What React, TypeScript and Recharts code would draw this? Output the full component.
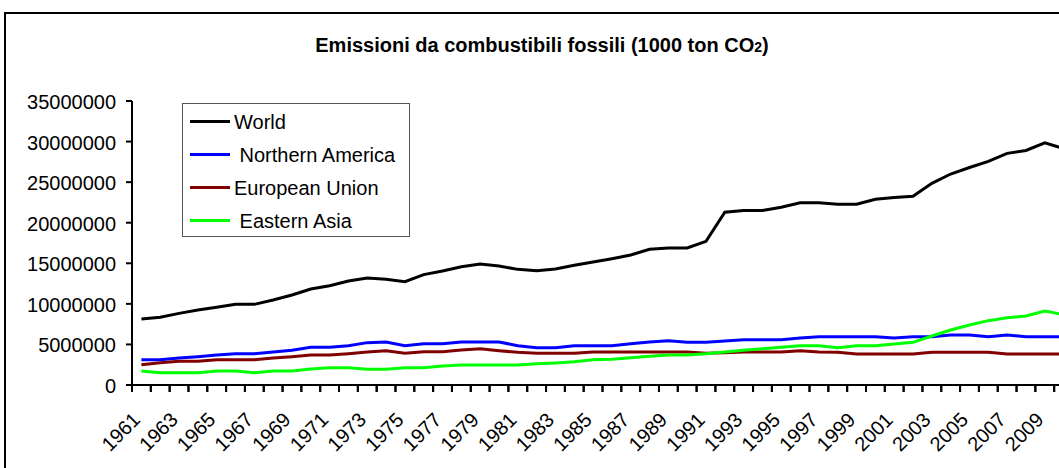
import React from 'react';
import { LineChart, Line, XAxis, YAxis, Legend } from 'recharts';

// Years on the category axis
const years = [
  1961, 1962, 1963, 1964, 1965, 1966, 1967, 1968, 1969, 1970,
  1971, 1972, 1973, 1974, 1975, 1976, 1977, 1978, 1979, 1980,
  1981, 1982, 1983, 1984, 1985, 1986, 1987, 1988, 1989, 1990,
  1991, 1992, 1993, 1994, 1995, 1996, 1997, 1998, 1999, 2000,
  2001, 2002, 2003, 2004, 2005, 2006, 2007, 2008, 2009, 2010,
];

// Emissions, thousand tonnes of CO2
const world = [
  8130000, 8340000, 8830000, 9240000, 9570000, 9940000, 9940000, 10470000, 11090000, 11830000,
  12240000, 12820000, 13190000, 13030000, 12740000, 13600000, 14050000, 14580000, 14910000, 14660000,
  14250000, 14090000, 14300000, 14750000, 15150000, 15570000, 16020000, 16720000, 16880000, 16880000,
  17710000, 21300000, 21500000, 21500000, 21900000, 22450000, 22450000, 22280000, 22280000, 22880000,
  23100000, 23250000, 24850000, 26000000, 26800000, 27550000, 28550000, 28900000, 29850000, 29150000,
];

const northernAmerica = [
  3120000, 3120000, 3330000, 3490000, 3700000, 3860000, 3860000, 4070000, 4270000, 4640000,
  4640000, 4850000, 5220000, 5300000, 4850000, 5090000, 5090000, 5300000, 5300000, 5300000,
  4850000, 4600000, 4600000, 4850000, 4850000, 4850000, 5090000, 5300000, 5460000, 5260000,
  5260000, 5420000, 5590000, 5590000, 5590000, 5790000, 5960000, 5960000, 5960000, 5960000,
  5790000, 5960000, 5960000, 6160000, 6160000, 5960000, 6160000, 5960000, 5960000, 5960000,
];

const europeanUnion = [
  2510000, 2750000, 2920000, 2920000, 3120000, 3120000, 3120000, 3330000, 3490000, 3700000,
  3700000, 3860000, 4070000, 4230000, 3900000, 4110000, 4110000, 4310000, 4480000, 4230000,
  4030000, 3900000, 3900000, 3900000, 4070000, 4070000, 4070000, 4070000, 4070000, 4070000,
  3900000, 3980000, 4070000, 4070000, 4070000, 4230000, 4070000, 4030000, 3820000, 3820000,
  3820000, 3820000, 4030000, 4030000, 4030000, 4030000, 3820000, 3820000, 3820000, 3820000,
];

const easternAsia = [
  1730000, 1520000, 1520000, 1520000, 1730000, 1730000, 1520000, 1730000, 1730000, 1970000,
  2140000, 2140000, 1930000, 1930000, 2140000, 2140000, 2340000, 2460000, 2460000, 2460000,
  2460000, 2630000, 2710000, 2880000, 3120000, 3160000, 3370000, 3530000, 3700000, 3700000,
  3860000, 4070000, 4270000, 4480000, 4640000, 4850000, 4850000, 4600000, 4850000, 4850000,
  5050000, 5260000, 6040000, 6780000, 7390000, 7930000, 8300000, 8500000, 9120000, 8670000,
];

// Value axis ticks and the years printed under the category axis
const yTicks = [0, 5000000, 10000000, 15000000, 20000000, 25000000, 30000000, 35000000];
const yearLabels = [
  1961, 1963, 1965, 1967, 1969, 1971, 1973, 1975, 1977, 1979, 1981, 1983, 1985,
  1987, 1989, 1991, 1993, 1995, 1997, 1999, 2001, 2003, 2005, 2007, 2009,
];

const seriesNames = ['World', 'Northern America', 'European Union', 'Eastern Asia'];
const seriesColors = ['#000000', '#0000ff', '#800000', '#00ff00'];
const seriesKeys = ['world', 'northernAmerica', 'europeanUnion', 'easternAsia'];
const legendIndent = ['', ' ', '', ' '];

const data = years.map((year, i) => ({
  year,
  world: world[i],
  northernAmerica: northernAmerica[i],
  europeanUnion: europeanUnion[i],
  easternAsia: easternAsia[i],
}));

// Tick marks sit between categories, one at each boundary
const boundaries = [...years.map((y) => y - 0.5), years[years.length - 1] + 0.5];
const xDomain: [number, number] = [boundaries[0], boundaries[boundaries.length - 1]];

const FONT = '"Liberation Sans", Arial, Helvetica, sans-serif';
const AXIS_COLOR = '#000000';
const AXIS_WIDTH = 2;
const FONT_SIZE = 20;
const X_TICK_SIZE = 7;
const X_TICK_MARGIN = 2;
const Y_TICK_SIZE = 6;
const Y_TICK_MARGIN = 10;

// Category axis: a mark at every boundary and each odd year's label
// centred in its slot, rotated 45 degrees.
function YearTick(props: any) {
  const { x, y, payload, width } = props;
  const axisY = y - X_TICK_SIZE - X_TICK_MARGIN;
  const year = payload.value + 0.5;
  const slot = width / (boundaries.length - 1);
  const ax = x + slot / 2;
  const ay = axisY + 36;
  return (
    <g>
      <path d={`M${x},${axisY}V${axisY + X_TICK_SIZE}`} fill="none" stroke={AXIS_COLOR} strokeWidth={AXIS_WIDTH} />
      {yearLabels.includes(year) && (
        <text
          x={ax}
          y={ay}
          transform={`rotate(-45, ${ax}, ${ay})`}
          textAnchor="end"
          fontSize={FONT_SIZE}
          fontFamily={FONT}
          fill="#000"
        >
          {year}
        </text>
      )}
    </g>
  );
}

// Value axis: tick mark and plain number label.
function ValueTick(props: any) {
  const { x, y, payload } = props;
  const lineX = x + Y_TICK_SIZE + Y_TICK_MARGIN;
  return (
    <g>
      <path d={`M${lineX - Y_TICK_SIZE},${y}H${lineX}`} fill="none" stroke={AXIS_COLOR} strokeWidth={AXIS_WIDTH} />
      <text x={x} y={y} dy={8} textAnchor="end" fontSize={FONT_SIZE} fontFamily={FONT} fill="#000">
        {String(payload.value)}
      </text>
    </g>
  );
}

function LegendBox() {
  return (
    <div
      style={{
        width: 226,
        height: 131,
        border: '1px solid #555',
        background: '#fff',
        fontFamily: FONT,
        fontSize: FONT_SIZE,
        color: '#000',
        boxSizing: 'content-box',
        paddingTop: 1,
      }}
    >
      {seriesNames.map((name, i) => (
        <div key={name} style={{ display: 'flex', alignItems: 'center', height: 33, paddingLeft: 7 }}>
          <div style={{ width: 40, height: 3, background: seriesColors[i], marginRight: 4 }} />
          <span style={{ whiteSpace: 'pre', lineHeight: '20px' }}>{legendIndent[i] + name}</span>
        </div>
      ))}
    </div>
  );
}

export default function App() {
  return (
    <div
      style={{
        position: 'fixed',
        left: 0,
        top: 0,
        width: 1059,
        height: 468,
        overflow: 'hidden',
        background: '#fff',
        fontFamily: FONT,
      }}
    >
      <div
        style={{
          position: 'absolute',
          left: 4,
          top: 12,
          width: 1200,
          height: 600,
          border: '2px solid #000',
        }}
      />
      <div
        style={{
          position: 'absolute',
          left: 0,
          top: 35,
          width: 1084,
          textAlign: 'center',
          fontWeight: 'bold',
          fontSize: FONT_SIZE,
          lineHeight: '20px',
          color: '#000',
          whiteSpace: 'pre',
        }}
      >
        Emissioni da combustibili fossili (1000 ton CO<span style={{ fontSize: 14 }}>2</span>)
      </div>
      <div style={{ position: 'absolute', left: 0, top: 0 }}>
        <LineChart
          width={1100}
          height={468}
          data={data}
          margin={{ top: 101, right: 27, bottom: 0, left: 0 }}
        >
          <XAxis
            dataKey="year"
            type="number"
            domain={xDomain}
            ticks={boundaries}
            interval={0}
            tick={<YearTick />}
            tickSize={X_TICK_SIZE}
            tickMargin={X_TICK_MARGIN}
            height={83}
            axisLine={{ stroke: AXIS_COLOR, strokeWidth: AXIS_WIDTH }}
            tickLine={{ stroke: AXIS_COLOR, strokeWidth: AXIS_WIDTH }}
          />
          <YAxis
            type="number"
            domain={[0, 35000000]}
            ticks={yTicks}
            interval={0}
            width={132}
            tickSize={Y_TICK_SIZE}
            tickMargin={Y_TICK_MARGIN}
            axisLine={{ stroke: AXIS_COLOR, strokeWidth: AXIS_WIDTH }}
            tickLine={false}
            tick={<ValueTick />}
          />
          <Legend
            layout="vertical"
            align="center"
            verticalAlign="middle"
            content={() => <LegendBox />}
            wrapperStyle={{ left: 182, top: 103, width: 228, height: 133 }}
          />
          {seriesKeys.map((key, i) => (
            <Line
              key={key}
              type="linear"
              dataKey={key}
              name={seriesNames[i]}
              stroke={seriesColors[i]}
              strokeWidth={3}
              dot={false}
              activeDot={false}
              isAnimationActive={false}
            />
          ))}
        </LineChart>
      </div>
    </div>
  );
}
